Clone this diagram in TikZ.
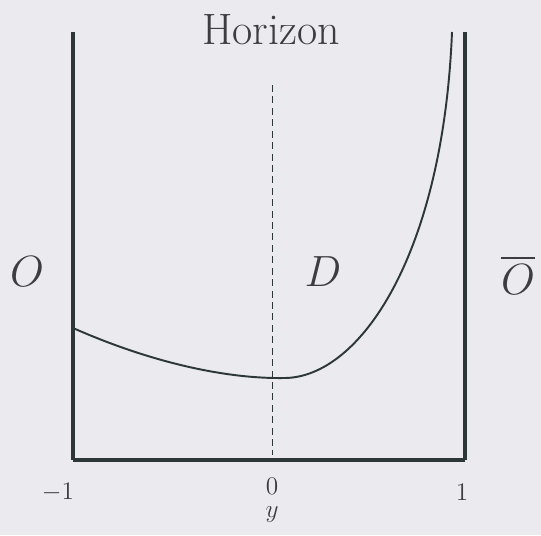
\documentclass[tikz,border=0pt]{standalone}
\usepackage{amsmath}
\definecolor{mybg}{RGB}{234, 234, 239}
\definecolor{mydark}{RGB}{45, 55, 55}
\definecolor{mytext}{RGB}{60, 60, 65}

\begin{document}
\begin{tikzpicture}[x=0.02cm, y=-0.02cm]
\tikzset{wall/.style={mydark, line width=1.8pt},
         lbl/.style={anchor=center, inner sep=0, mytext}}

\fill[mybg] (0, 0) rectangle (541, 535);
\useasboundingbox (0, 0) rectangle (541, 535);

\coordinate (tl) at (73, 32);
\coordinate (bl) at (73, 460);
\coordinate (tr) at (465, 32);
\coordinate (br) at (465, 460);
\coordinate (htop) at (272, 85);
\coordinate (hbot) at (272, 455);

% walls and bottom axis
\draw[wall] (tl) -- (bl);
\draw[wall] (tr) -- (br);
\draw[mydark, line width=2.6pt] (bl) -- (br);

% horizon
\draw[mydark, line width=0.5pt, dash pattern=on 4pt off 2.5pt] (htop) -- (hbot);

% the curve
\draw[mydark, line width=1.1pt] (73, 328) .. controls (150, 362) and (225, 379) .. (285, 378)
    .. controls (360, 377) and (443, 255) .. (452, 32);

\node[lbl] (horizon) at (271, 30) {\fontsize{25}{30}\selectfont Horizon};
\node[lbl] (left) at (27, 272) {\fontsize{29}{34}\selectfont$O$};
\node[lbl] (dom) at (323, 272) {\fontsize{27}{32}\selectfont$D$};
\node[lbl] (right) at (518, 275) {\fontsize{29}{34}\selectfont$\overline{O}$};

\node[lbl] (mone) at (58, 492) {\fontsize{15}{18}\selectfont $-1$};
\node[lbl] (zero) at (272, 486) {\fontsize{15}{18}\selectfont $0$};
\node[lbl] (one) at (462, 492) {\fontsize{15}{18}\selectfont $1$};
\node[lbl] (yvar) at (272, 515) {\fontsize{15}{18}\selectfont $y$};
\end{tikzpicture}
\end{document}
